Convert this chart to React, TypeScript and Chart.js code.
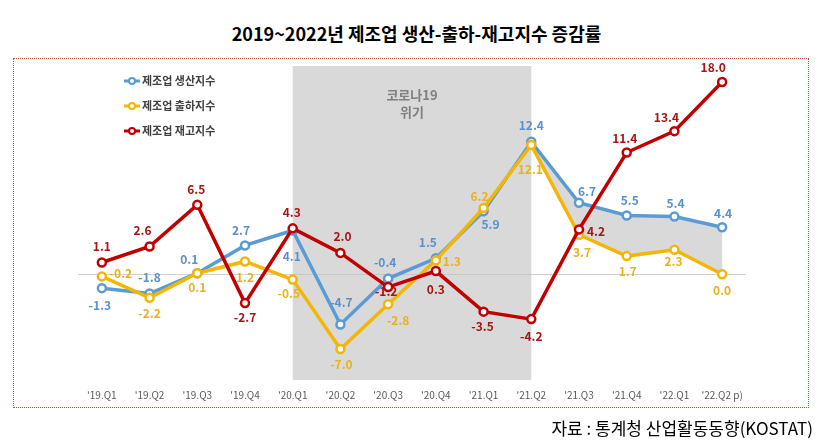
import React, { useEffect, useRef } from 'react';
import { Chart, registerables } from 'chart.js';

Chart.register(...registerables);

// ---------------- data ----------------
const categories = ["'19.Q1", "'19.Q2", "'19.Q3", "'19.Q4", "'20.Q1", "'20.Q2", "'20.Q3", "'20.Q4", "'21.Q1", "'21.Q2", "'21.Q3", "'21.Q4", "'22.Q1", "'22.Q2 p)"];
const production = [-1.3, -1.8, 0.1, 2.7, 4.1, -4.7, -0.4, 1.5, 5.9, 12.4, 6.7, 5.5, 5.4, 4.4];
const shipment = [-0.2, -2.2, 0.1, 1.2, -0.5, -7.0, -2.8, 1.3, 6.2, 12.1, 3.7, 1.7, 2.3, 0.0];
const inventory = [1.1, 2.6, 6.5, -2.7, 4.3, 2.0, -1.2, 0.3, -3.5, -4.2, 4.2, 11.4, 13.4, 18.0];
const seriesNames = ['제조업 생산지수', '제조업 출하지수', '제조업 재고지수'];
const covidText = ['코로나19', '위기'];
const covidStartIndex = 4;
const covidEndIndex = 9;
const gapStartIndex = 9;
const titleText = '2019~2022년 제조업 생산-출하-재고지수 증감률';
const sourceText = '자료 : 통계청 산업활동동향(KOSTAT)';

// ---------------- presentation ----------------
const FONT = '"Noto Sans CJK KR", "Noto Sans", sans-serif';
const colors = ['#5b9bd5', '#f2b705', '#c00000'];
const labelColors = ['#5a90cc', '#e9b21a', '#a51515'];

// label offsets [dx, dy] from each point
const productionLabelOffsets = [[-2, 17], [0, -16], [-8, -14], [-4, -15], [-1, 26], [1, -22], [-3, -16], [-8, -16], [7, 13], [0, -16], [8, -11], [3, -15], [1, -13], [1, -14]];
const shipmentLabelOffsets = [[19, -3], [0, 16], [0, 14], [0, 16], [-4, 14], [1, 15], [10, 16], [16, 1], [-4, -12], [-1, 24], [3, 18], [1, 15], [-1, 12], [0, 16]];
const inventoryLabelOffsets = [[0, -16], [-7, -16], [-1, -15], [0, 14], [-1, -16], [2, -16], [-2, 4], [0, 18], [-1, 15], [0, 17], [17, 2], [-2, -14], [-8, -14], [-9, -15]];

const seriesValues = [production, shipment, inventory];
const seriesOffsets = [productionLabelOffsets, shipmentLabelOffsets, inventoryLabelOffsets];

const backdropPlugin = {
  id: 'backdrop',
  beforeDatasetsDraw(chart: any) {
    const { ctx, chartArea, scales } = chart;
    const x = scales.x;
    const y = scales.y;
    ctx.save();
    // covid shaded period
    const x0 = x.getPixelForValue(covidStartIndex);
    const x1 = x.getPixelForValue(covidEndIndex);
    ctx.fillStyle = '#d9d9d9';
    ctx.fillRect(x0, chartArea.top, x1 - x0, chartArea.bottom - chartArea.top);
    ctx.fillStyle = '#7f7f7f';
    ctx.font = 'bold 13px ' + FONT;
    ctx.textAlign = 'center';
    ctx.textBaseline = 'middle';
    const cx = (x0 + x1) / 2;
    ctx.fillText(covidText[0], cx, chartArea.top + 29);
    ctx.fillText(covidText[1], cx, chartArea.top + 46);
    // gap between production and shipment
    ctx.beginPath();
    for (let i = gapStartIndex; i < production.length; i++) {
      const px = x.getPixelForValue(i);
      const py = y.getPixelForValue(production[i]);
      if (i === gapStartIndex) ctx.moveTo(px, py); else ctx.lineTo(px, py);
    }
    for (let i = shipment.length - 1; i >= gapStartIndex; i--) {
      ctx.lineTo(x.getPixelForValue(i), y.getPixelForValue(shipment[i]));
    }
    ctx.closePath();
    ctx.fillStyle = '#d9d9d9';
    ctx.fill();
    // zero line
    const yz = Math.round(y.getPixelForValue(0)) + 0.5;
    ctx.strokeStyle = 'rgba(190,190,190,0.7)';
    ctx.lineWidth = 1;
    ctx.beginPath();
    ctx.moveTo(chartArea.left, yz);
    ctx.lineTo(chartArea.right, yz);
    ctx.stroke();
    ctx.restore();
  },
};

const labelsPlugin = {
  id: 'valueLabels',
  afterDatasetsDraw(chart: any) {
    const { ctx } = chart;
    ctx.save();
    ctx.font = 'bold 12px ' + FONT;
    ctx.textAlign = 'center';
    ctx.textBaseline = 'middle';
    for (let k = 0; k < 3; k++) {
      const meta = chart.getDatasetMeta(k);
      ctx.fillStyle = labelColors[k];
      meta.data.forEach((pt: any, i: number) => {
        const off = seriesOffsets[k][i];
        ctx.fillText(seriesValues[k][i].toFixed(1), pt.x + off[0], pt.y + off[1]);
      });
    }
    ctx.restore();
  },
};

const legendPlugin = {
  id: 'customLegend',
  afterDraw(chart: any) {
    const { ctx, chartArea } = chart;
    ctx.save();
    const lx = chartArea.left + 46;
    seriesNames.forEach((name, k) => {
      const ly = chartArea.top + 15 + k * 25;
      ctx.strokeStyle = colors[k];
      ctx.lineWidth = 3;
      ctx.beginPath();
      ctx.moveTo(lx, ly);
      ctx.lineTo(lx + 16, ly);
      ctx.stroke();
      ctx.beginPath();
      ctx.arc(lx + 8, ly, 3, 0, Math.PI * 2);
      ctx.fillStyle = '#ffffff';
      ctx.fill();
      ctx.lineWidth = 2;
      ctx.stroke();
      ctx.fillStyle = '#404040';
      ctx.font = 'bold 11px ' + FONT;
      ctx.textAlign = 'left';
      ctx.textBaseline = 'middle';
      ctx.fillText(name, lx + 18, ly);
    });
    ctx.restore();
  },
};

export default function App() {
  const canvasRef = useRef<HTMLCanvasElement | null>(null);

  useEffect(() => {
    if (!canvasRef.current) return;
    const mk = (k: number, data: number[], order: number) => ({
      label: seriesNames[k],
      data,
      borderColor: colors[k],
      backgroundColor: '#ffffff',
      pointBackgroundColor: '#ffffff',
      pointBorderColor: colors[k],
      borderWidth: 3.5,
      pointRadius: 4,
      pointBorderWidth: 2.5,
      tension: 0,
      fill: false,
      order,
    });
    const chart = new Chart(canvasRef.current, {
      type: 'line',
      data: {
        labels: categories,
        datasets: [mk(0, production, 3), mk(1, shipment, 2), mk(2, inventory, 1)],
      },
      options: {
        responsive: false,
        animation: false,
        layout: { padding: { left: 78, right: 78, top: 66, bottom: 36 } },
        plugins: {
          legend: { display: false },
          tooltip: { enabled: false },
        },
        scales: {
          x: {
            offset: true,
            grid: { display: false, drawTicks: false, tickLength: 0 },
            border: { display: false },
            ticks: {
              font: { family: FONT, size: 10 },
              color: '#595959',
              padding: 9,
              maxRotation: 0,
              autoSkip: false,
            },
            afterFit: (scale: any) => {
              scale.height = 27;
            },
          },
          y: { display: false, min: -9.9, max: 19.5 },
        },
      } as any,
      plugins: [backdropPlugin, labelsPlugin, legendPlugin],
    });
    return () => chart.destroy();
  }, []);

  return (
    <div style={{ position: 'fixed', left: 0, top: 0, width: 824, height: 443, background: '#ffffff', overflow: 'hidden' }}>
      <div
        style={{
          position: 'absolute',
          left: 0,
          top: 20,
          width: 833,
          textAlign: 'center',
          fontFamily: FONT,
          fontWeight: 700,
          fontSize: 18,
          lineHeight: '26px',
          color: '#000',
          whiteSpace: 'nowrap',
        }}
      >
        {titleText}
      </div>
      <div
        style={{
          position: 'absolute',
          left: 13,
          top: 58,
          width: 794,
          height: 348,
          border: '1px dotted #c0504d',
        }}
      />
      <canvas ref={canvasRef} width={824} height={443} style={{ position: 'absolute', left: 0, top: 0, display: 'block' }} />
      <div
        style={{
          position: 'absolute',
          right: 11,
          top: 415,
          fontFamily: FONT,
          fontSize: 17,
          lineHeight: '26px',
          color: '#000',
          whiteSpace: 'nowrap',
        }}
      >
        {sourceText}
      </div>
    </div>
  );
}
